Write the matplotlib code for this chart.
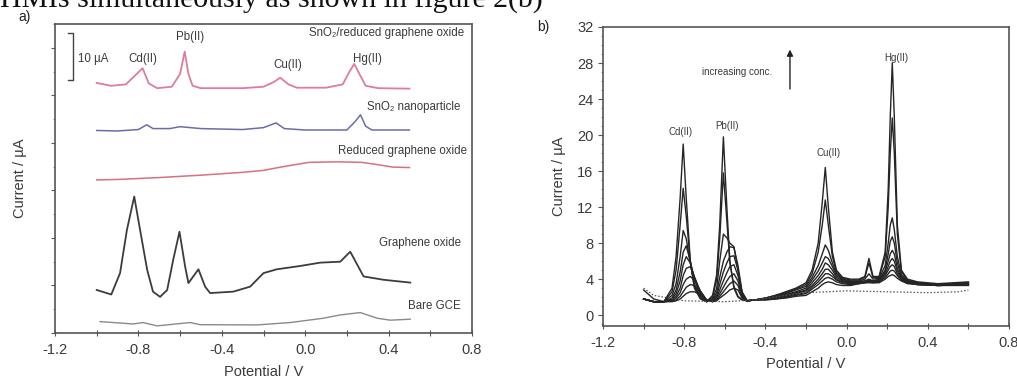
import matplotlib
matplotlib.use("Agg")
import matplotlib.pyplot as plt
from matplotlib.ticker import MultipleLocator, NullFormatter, FuncFormatter

# ---------------- Panel a) data (current offset-stacked, µA) ----------------
sno2_rgo_x = [-1.0, -0.93, -0.86, -0.82, -0.78, -0.75, -0.71, -0.64, -0.60, -0.578, -0.56, -0.54, -0.5,
              -0.3, -0.2, -0.15, -0.12, -0.08, -0.04, 0.1, 0.18, 0.21, 0.235, 0.26, 0.29, 0.35, 0.5]
sno2_rgo_y = [52.6, 52.0, 52.3, 54.0, 55.7, 52.5, 51.5, 51.8, 54.5, 59.2, 54.5, 52.0, 51.5,
              51.5, 51.8, 52.8, 53.7, 52.3, 51.6, 51.6, 52.3, 54.8, 56.6, 54.5, 52.0, 51.5, 51.4]

sno2_np_x = [-1.0, -0.9, -0.8, -0.76, -0.73, -0.65, -0.6, -0.5, -0.3, -0.2, -0.14, -0.1, 0.0, 0.2, 0.24, 0.265, 0.29, 0.32, 0.5]
sno2_np_y = [42.6, 42.5, 42.8, 43.8, 43.0, 43.0, 43.4, 43.0, 42.8, 43.2, 44.2, 43.0, 42.7, 42.7, 44.5, 45.9, 43.5, 42.7, 42.7]

rgo_x = [-1.0, -0.9, -0.7, -0.5, -0.3, -0.2, -0.13, -0.05, 0.02, 0.15, 0.27, 0.35, 0.42, 0.5]
rgo_y = [32.2, 32.3, 32.7, 33.2, 33.8, 34.2, 34.8, 35.4, 35.9, 36.0, 35.9, 35.4, 34.9, 34.8]

go_x = [-1.0, -0.93, -0.888, -0.855, -0.82, -0.792, -0.758, -0.73, -0.696, -0.662, -0.633, -0.603, -0.576,
        -0.56, -0.512, -0.48, -0.456, -0.345, -0.264, -0.2, -0.136, -0.024, 0.072, 0.168, 0.216, 0.28, 0.375, 0.504]
go_y = [9.05, 8.1, 12.6, 21.7, 28.7, 21.7, 13.3, 8.7, 7.6, 9.05, 15.4, 21.3, 14.0,
        10.5, 13.4, 9.75, 8.4, 8.7, 9.75, 12.6, 13.4, 14.1, 14.8, 15.0, 17.1, 11.9, 11.2, 10.6]

gce_x = [-0.984, -0.826, -0.778, -0.71, -0.552, -0.504, -0.23, -0.072, 0.086, 0.168, 0.264, 0.346, 0.408, 0.504]
gce_y = [2.4, 1.9, 2.2, 1.5, 2.2, 1.75, 1.7, 2.2, 3.1, 3.8, 4.3, 3.1, 2.7, 2.9]

# ---------------- Panel b) data (SWASV at increasing concentration) ----------------
pot_b = [-1.0, -0.95, -0.9,
         -0.86, -0.84, -0.82, -0.805, -0.79, -0.77, -0.75, -0.72, -0.69,
         -0.66, -0.64, -0.625, -0.607, -0.59, -0.575, -0.555, -0.535, -0.515, -0.49,
         -0.45, -0.4, -0.35, -0.3, -0.25,
         -0.2, -0.17, -0.14, -0.12, -0.105, -0.09, -0.07, -0.05, -0.02, 0.02,
         0.06, 0.09, 0.11, 0.13,
         0.16, 0.19, 0.205, 0.215, 0.225, 0.235, 0.25, 0.27, 0.3, 0.35, 0.45, 0.6]

cur_c1 = [2.8, 1.8, 1.5,
          1.5, 1.6, 1.8, 2.1, 2.4, 2.6, 2.6, 2.3, 1.7,
          1.5, 1.6, 1.9, 2.2, 2.5, 2.8, 3.0, 2.8, 1.9, 1.6,
          1.7, 1.7, 1.8, 1.9, 2.1,
          2.2, 2.6, 3.0, 3.4, 3.6, 3.7, 3.6, 3.4, 3.3, 3.3,
          3.5, 3.6, 3.6, 3.6,
          3.6, 4.0, 4.3, 4.4, 4.5, 4.4, 4.1, 3.8, 3.5, 3.4, 3.3, 3.3]
cur_c2 = [1.8, 1.5, 1.5,
          1.6, 1.7, 2.1, 2.6, 3.1, 3.4, 3.3, 2.6, 1.7,
          1.5, 1.7, 2.1, 2.6, 3.1, 3.5, 3.8, 3.3, 2.0, 1.6,
          1.7, 1.7, 1.8, 2.0, 2.2,
          2.4, 2.9, 3.4, 3.8, 4.1, 4.2, 4.0, 3.7, 3.5, 3.4,
          3.5, 3.6, 3.7, 3.6,
          3.7, 4.2, 4.6, 4.9, 5.0, 4.9, 4.4, 3.9, 3.6, 3.4, 3.3, 3.4]
cur_c3 = [1.8, 1.5, 1.5,
          1.6, 1.9, 2.5, 3.4, 4.0, 4.3, 3.9, 2.7, 1.7,
          1.5, 1.8, 2.4, 3.1, 3.8, 4.3, 4.6, 3.8, 2.1, 1.6,
          1.7, 1.8, 1.9, 2.1, 2.3,
          2.5, 3.1, 3.7, 4.2, 4.6, 4.6, 4.3, 3.9, 3.6, 3.5,
          3.6, 3.7, 3.8, 3.7,
          3.8, 4.4, 5.0, 5.4, 5.6, 5.4, 4.6, 4.0, 3.6, 3.4, 3.3, 3.4]
cur_c4 = [1.8, 1.5, 1.5,
          1.7, 2.1, 3.0, 4.4, 5.2, 5.4, 4.3, 2.6, 1.6,
          1.6, 2.0, 2.8, 3.8, 4.7, 5.4, 5.6, 4.4, 2.3, 1.6,
          1.7, 1.8, 1.9, 2.1, 2.4,
          2.7, 3.3, 4.0, 4.6, 5.1, 5.1, 4.6, 4.0, 3.7, 3.6,
          3.7, 3.7, 3.8, 3.7,
          3.8, 4.6, 5.4, 6.0, 6.3, 6.0, 4.9, 4.1, 3.7, 3.5, 3.3, 3.4]
cur_c5 = [1.8, 1.5, 1.5,
          1.8, 2.4, 3.8, 5.6, 6.5, 5.8, 4.2, 2.4, 1.6,
          1.6, 2.2, 3.4, 4.8, 5.8, 6.5, 6.6, 5.0, 2.5, 1.6,
          1.7, 1.8, 2.0, 2.2, 2.5,
          2.8, 3.6, 4.4, 5.1, 5.8, 5.6, 5.0, 4.2, 3.8, 3.7,
          3.7, 3.8, 3.9, 3.8,
          3.9, 4.8, 6.0, 6.8, 7.2, 6.8, 5.2, 4.2, 3.7, 3.5, 3.3, 3.5]
cur_c6 = [1.8, 1.5, 1.5,
          1.9, 2.8, 4.8, 7.0, 7.7, 6.0, 4.0, 2.2, 1.5,
          1.7, 2.5, 4.2, 6.0, 7.0, 7.6, 7.5, 5.5, 2.6, 1.6,
          1.7, 1.8, 2.0, 2.3, 2.6,
          3.0, 3.9, 4.9, 5.8, 6.5, 6.3, 5.4, 4.4, 3.9, 3.7,
          3.7, 3.8, 4.0, 3.8,
          4.0, 5.0, 6.8, 8.2, 8.7, 8.0, 5.8, 4.3, 3.8, 3.6, 3.4, 3.5]
cur_c7 = [1.8, 1.5, 1.5,
          2.2, 3.5, 6.5, 9.4, 8.5, 5.8, 3.5, 2.0, 1.5,
          1.8, 3.0, 6.0, 9.0, 8.6, 8.0, 7.6, 5.0, 2.5, 1.6,
          1.7, 1.9, 2.1, 2.4, 2.8,
          3.2, 4.2, 5.5, 6.8, 7.8, 7.2, 5.8, 4.6, 4.0, 3.8,
          3.8, 4.0, 4.6, 4.0,
          4.1, 5.5, 8.0, 10.0, 10.8, 9.5, 6.5, 4.5, 3.8, 3.6, 3.4, 3.6]
cur_c8 = [1.8, 1.5, 1.5,
          2.6, 5.0, 10.0, 14.1, 11.0, 6.0, 3.2, 1.9, 1.5,
          2.0, 4.0, 8.5, 15.8, 10.5, 5.8, 3.2, 2.1, 1.7, 1.6,
          1.7, 1.9, 2.2, 2.5, 2.9,
          3.4, 4.6, 7.0, 10.0, 12.8, 10.0, 6.5, 4.8, 4.1, 3.9,
          3.9, 4.2, 5.8, 4.2,
          4.2, 6.5, 12.0, 18.0, 21.9, 18.0, 9.0, 4.8, 3.9, 3.6, 3.4, 3.6]
cur_c9 = [1.8, 1.5, 1.5,
          3.0, 6.5, 13.0, 19.0, 13.0, 6.0, 3.0, 1.8, 1.5,
          2.2, 4.5, 10.0, 19.8, 12.0, 6.0, 3.0, 2.0, 1.7, 1.6,
          1.7, 1.9, 2.2, 2.6, 3.0,
          3.6, 5.0, 8.0, 12.5, 16.4, 12.0, 7.0, 5.0, 4.2, 4.0,
          4.0, 4.3, 6.3, 4.3,
          4.3, 7.0, 14.0, 22.0, 28.0, 22.0, 10.0, 5.0, 4.0, 3.7, 3.5, 3.7]
conc_curves = [cur_c1, cur_c2, cur_c3, cur_c4, cur_c5, cur_c6, cur_c7, cur_c8, cur_c9]

blank_x = [-1.0, -0.95, -0.8, -0.6, -0.45, -0.3, -0.2, -0.1, 0.0, 0.2, 0.4, 0.55, 0.6]
blank_y = [3.0, 2.2, 1.6, 1.5, 1.7, 2.2, 2.5, 2.6, 2.7, 2.6, 2.5, 2.6, 2.8]

# ---------------- Figure ----------------
plt.rcParams['font.family'] = ['Liberation Sans', 'DejaVu Sans']
fig = plt.figure(figsize=(10.17, 3.76), dpi=100)
W, H = 1017.0, 376.0
txtc = '#3a3a3a'
fmt = FuncFormatter(lambda v, p: f"{v:.1f}")

# top sentence, cut off by the upper edge as in the scan
fig.text(0.0, 1 - 8 / H, "HMIs simultaneously as shown in figure 2(b)",
         family=['Liberation Serif', 'DejaVu Serif'], fontsize=21.5, color='#111111',
         ha='left', va='baseline')

# ---- panel a
axa = fig.add_axes([55 / W, 1 - 333 / H, (472 - 55) / W, (333 - 24) / H])
axa.plot(sno2_rgo_x, sno2_rgo_y, color='#de7d97', lw=1.3)
axa.plot(sno2_np_x, sno2_np_y, color='#6b6cab', lw=1.1)
axa.plot(rgo_x, rgo_y, color='#d7707f', lw=1.1)
axa.plot(go_x, go_y, color='#3c3c3c', lw=1.3)
axa.plot(gce_x, gce_y, color='#8a8a8a', lw=1.0)
axa.set_xlim(-1.2, 0.8)
axa.set_ylim(0, 65)
axa.xaxis.set_major_locator(MultipleLocator(0.4))
axa.xaxis.set_minor_locator(MultipleLocator(0.2))
axa.yaxis.set_major_locator(MultipleLocator(10))
axa.yaxis.set_minor_locator(MultipleLocator(5))
axa.yaxis.set_major_formatter(NullFormatter())
axa.xaxis.set_major_formatter(fmt)
axa.tick_params(axis='x', which='both', direction='inout', length=4, width=0.8, labelsize=10.5,
                colors='#555555', labelcolor=txtc, pad=5)
axa.tick_params(axis='y', which='major', direction='out', length=3, width=0.8, colors='#555555')
axa.tick_params(axis='y', which='minor', direction='out', length=1.5, width=0.6, colors='#777777')
for s in axa.spines.values():
    s.set_color('#555555'); s.set_linewidth(1.2)
axa.set_xlabel("Potential / V", fontsize=10.5, color=txtc, labelpad=6)
axa.set_ylabel("Current / µA", fontsize=10.5, color=txtc, labelpad=14)

fs = 8.3
axa.text(0.76, 63.2, "SnO₂/reduced graphene oxide", fontsize=fs, color=txtc, ha='right', va='center')
axa.text(-0.778, 57.6, "Cd(II)", fontsize=fs, color=txtc, ha='center', va='center')
axa.text(-0.552, 62.2, "Pb(II)", fontsize=fs, color=txtc, ha='center', va='center')
axa.text(-0.086, 56.4, "Cu(II)", fontsize=fs, color=txtc, ha='center', va='center')
axa.text(0.298, 57.6, "Hg(II)", fontsize=fs, color=txtc, ha='center', va='center')
axa.text(0.745, 47.6, "SnO₂ nanoparticle", fontsize=fs, color=txtc, ha='right', va='center')
axa.text(0.778, 38.3, "Reduced graphene oxide", fontsize=fs, color=txtc, ha='right', va='center')
axa.text(0.745, 18.9, "Graphene oxide", fontsize=fs, color=txtc, ha='right', va='center')
axa.text(0.745, 5.7, "Bare GCE", fontsize=fs, color=txtc, ha='right', va='center')
# 10 µA scale bar
axa.plot([-1.138, -1.114, -1.114, -1.138], [63.2, 63.2, 53.2, 53.2], color='#444444', lw=1.0)
axa.text(-1.09, 57.6, "10 µA", fontsize=fs, color=txtc, ha='left', va='center')

fig.text(25 / W, 1 - 17 / H, "a)", fontsize=10, color='#222222', ha='center', va='center')

# ---- panel b
axb = fig.add_axes([603 / W, 1 - 326 / H, (1009 - 603) / W, (326 - 27) / H])
for c in conc_curves:
    axb.plot(pot_b, c, color='#252525', lw=1.0)
axb.plot(blank_x, blank_y, color='#555555', lw=0.9, ls=(0, (1.2, 1.5)))
axb.set_xlim(-1.2, 0.8)
axb.set_ylim(-1.2, 32)
axb.xaxis.set_major_locator(MultipleLocator(0.4))
axb.xaxis.set_minor_locator(MultipleLocator(0.2))
axb.yaxis.set_major_locator(MultipleLocator(4))
axb.yaxis.set_minor_locator(MultipleLocator(1))
axb.xaxis.set_major_formatter(fmt)
axb.tick_params(axis='x', which='both', direction='inout', length=4, width=0.8, labelsize=10.5,
                colors='#555555', labelcolor=txtc, pad=5)
axb.tick_params(axis='y', which='major', direction='out', length=3.5, width=0.8, labelsize=10.5,
                colors='#555555', labelcolor=txtc)
axb.tick_params(axis='y', which='minor', direction='out', length=1.5, width=0.6, colors='#777777')
for s in axb.spines.values():
    s.set_color('#555555'); s.set_linewidth(1.2)
axb.set_xlabel("Potential / V", fontsize=10.5, color=txtc, labelpad=5)
axb.set_ylabel("Current / µA", fontsize=10.5, color=txtc, labelpad=8)

fs2 = 7.0
axb.text(-0.82, 20.3, "Cd(II)", fontsize=fs2, color=txtc, ha='center', va='center')
axb.text(-0.587, 21.0, "Pb(II)", fontsize=fs2, color=txtc, ha='center', va='center')
axb.text(-0.09, 18.0, "Cu(II)", fontsize=fs2, color=txtc, ha='center', va='center')
axb.text(0.244, 28.6, "Hg(II)", fontsize=fs2, color=txtc, ha='center', va='center')
axb.text(-0.538, 27.0, "increasing conc.", fontsize=fs2, color=txtc, ha='center', va='center')
axb.annotate("", xy=(-0.279, 29.8), xytext=(-0.279, 24.8),
             arrowprops=dict(arrowstyle='-|>', color='#222222', lw=1.0, mutation_scale=9))

fig.text(543 / W, 1 - 27 / H, "b)", fontsize=10, color='#222222', ha='center', va='center')

fig.savefig("out.png", dpi=100)
